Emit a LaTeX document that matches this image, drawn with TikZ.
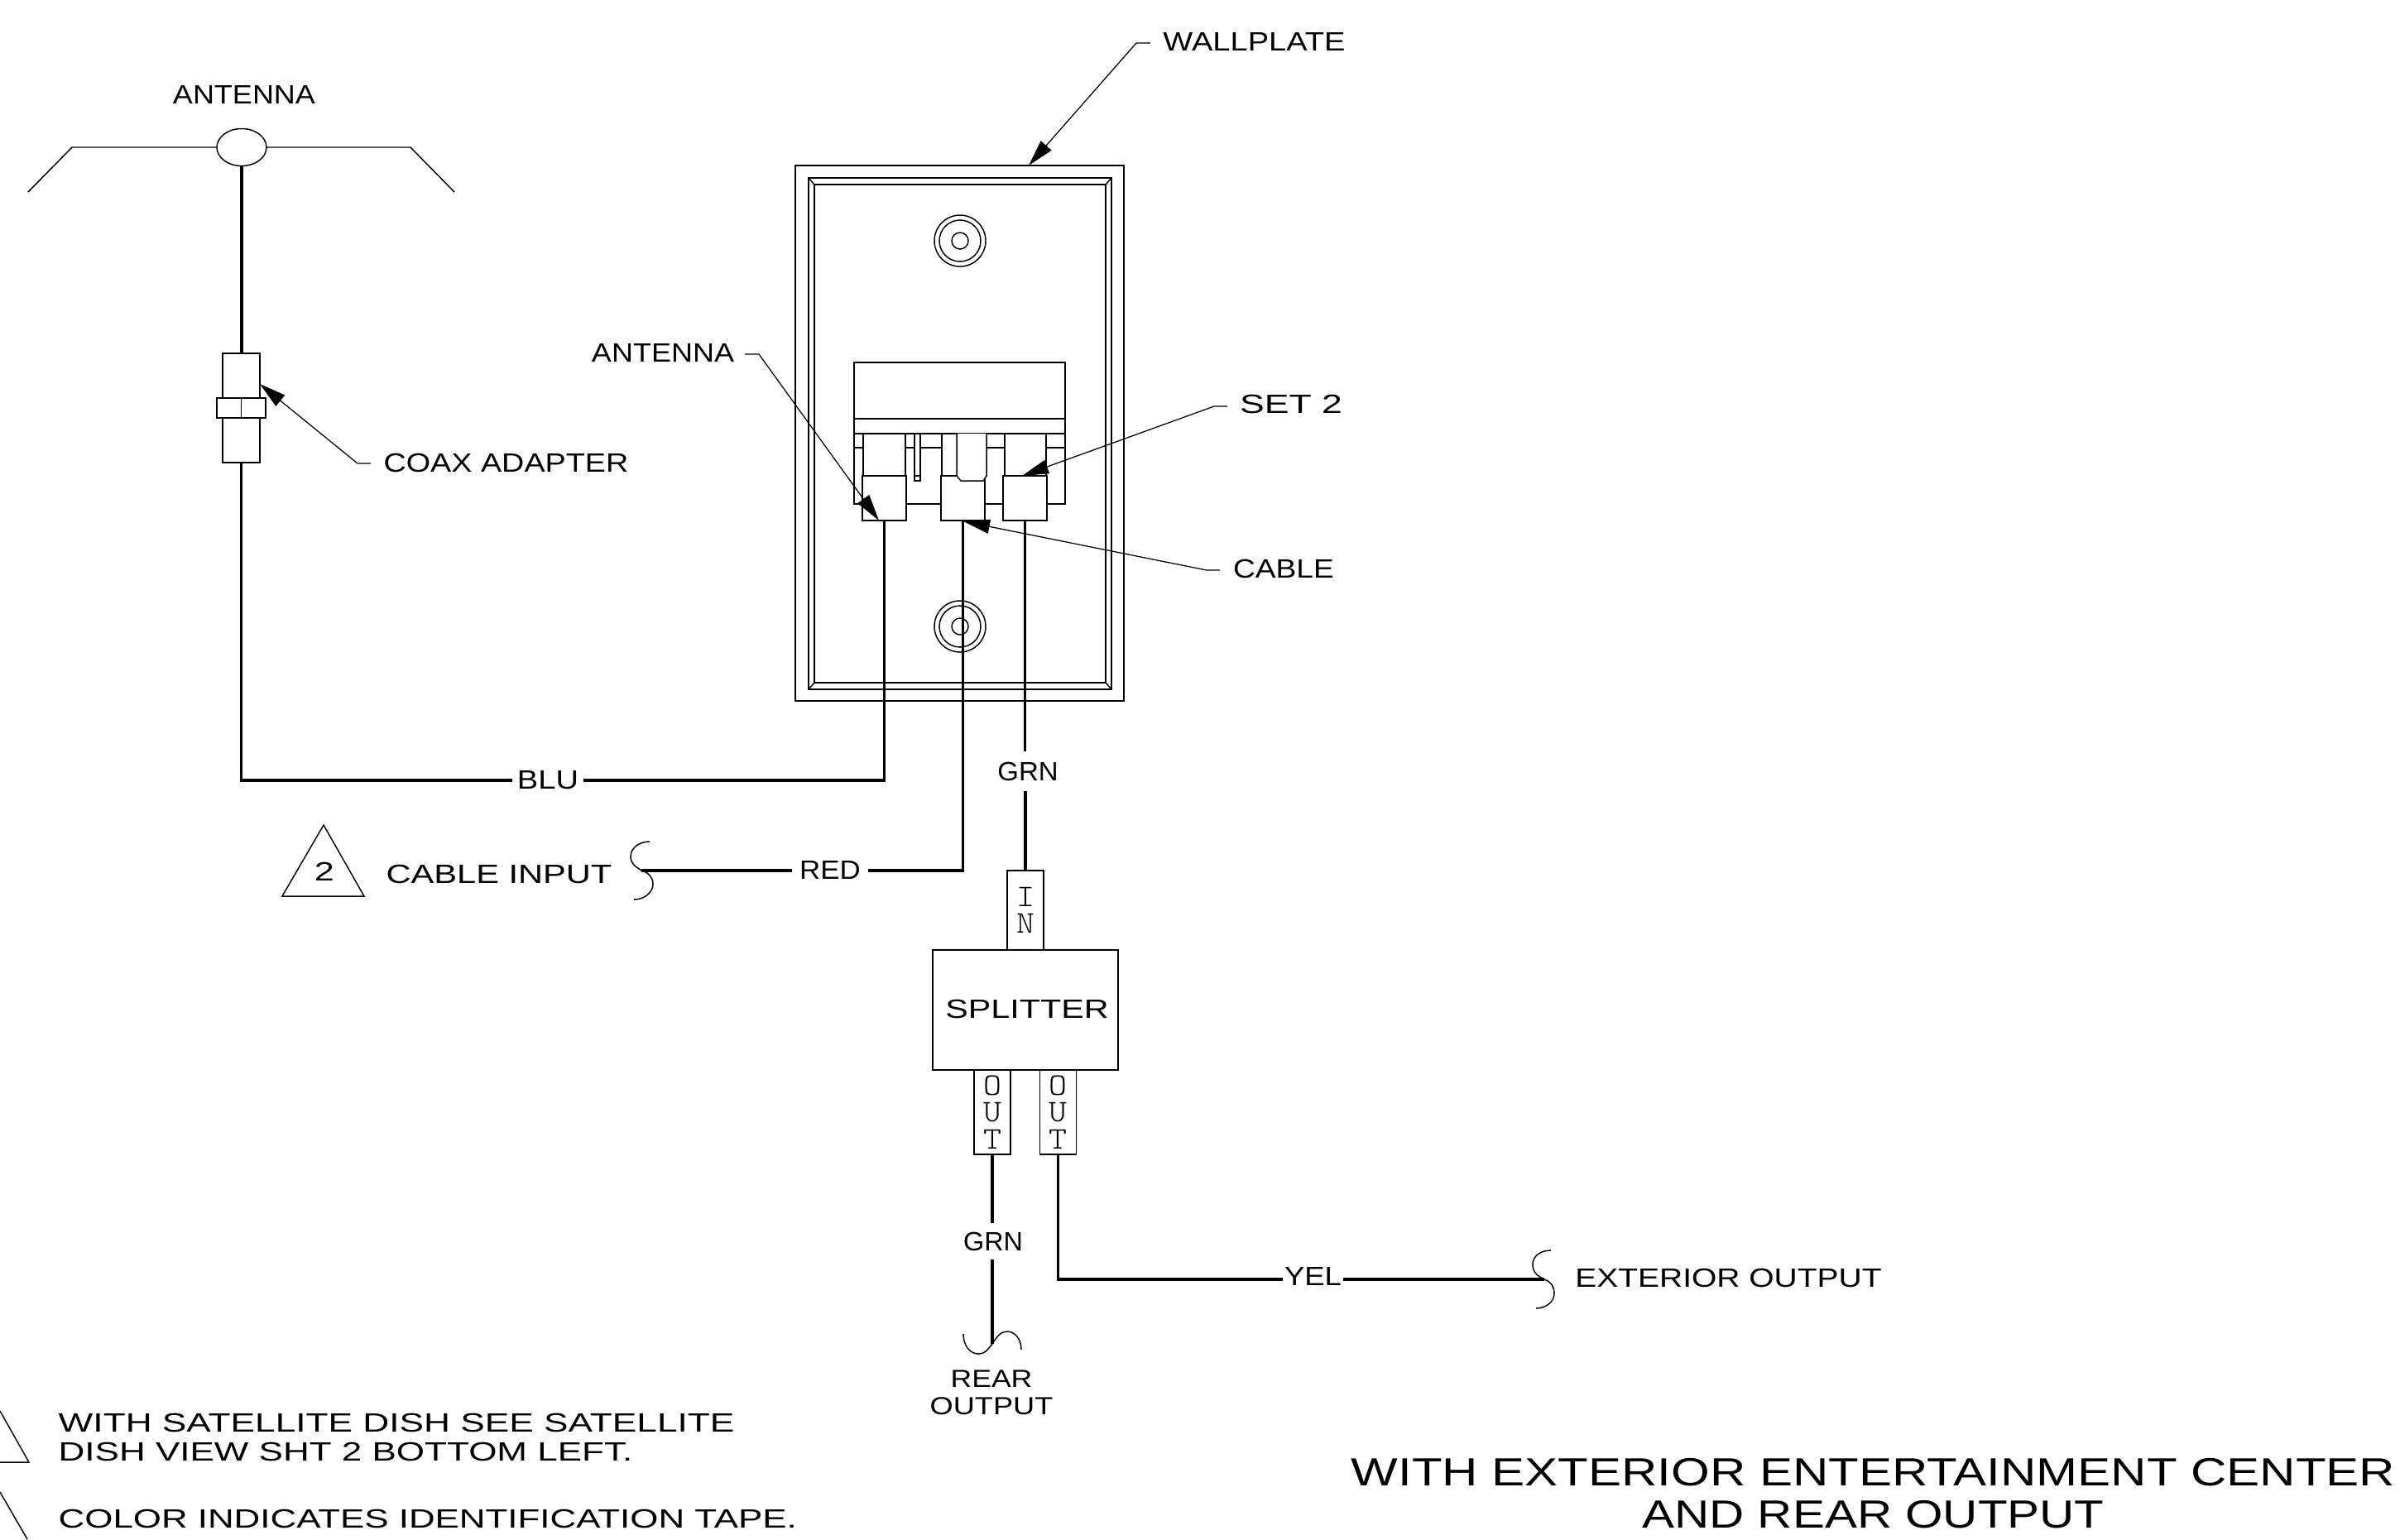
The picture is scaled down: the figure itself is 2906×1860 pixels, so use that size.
\documentclass[tikz,border=0pt]{standalone}
\usepackage{fontspec}
\setmainfont{Liberation Sans}
\usetikzlibrary{arrows.meta,shapes.geometric}
\newcommand{\stx}[2]{\scalebox{#1}[1]{#2}}
\tikzset{
    thinln/.style={line width=0.42pt},
    wire/.style={line width=0.95pt},
    leader/.style={line width=0.36pt, -{Triangle[length=3.2mm,width=1.7mm]}},
    part/.style={draw, line width=0.42pt, fill=white, inner sep=0pt},
    lbl/.style={inner sep=0pt, font=\fontsize{9.1pt}{9.9pt}\selectfont},
    stick/.style={part, align=center, font=\fontsize{10.8pt}{9.2pt}\ttfamily\fontseries{l}\selectfont}
}
\begin{document}
\begin{tikzpicture}[x=0.01cm, y=-0.01cm]
    \useasboundingbox (0,0) rectangle (2906,1860);

    % Wallplate
    \node[part, minimum width=3.97cm, minimum height=6.47cm] (plate) at (1159.5,523.5) {};
    \draw[thinln] (977,215) rectangle (1343,833);
    \draw[thinln] (984,223) rectangle (1336,825);
    \draw[thinln] (977,215) -- (984,223) (1343,215) -- (1336,223);
    \draw[thinln] (977,833) -- (984,825) (1343,833) -- (1336,825);

    % Screws
    \foreach \y in {291,757} {
        \draw[thinln] (1160,\y) circle (31);
        \draw[thinln] (1160,\y) circle (25);
        \draw[thinln] (1160,\y) circle (10);
    }

    % Inlet block
    \draw[thinln] (1032,438) rectangle (1287,609);
    \draw[thinln] (1032,506) -- (1287,506);
    \draw[thinln] (1032,541) -- (1287,541);
    \draw[line width=0.7pt] (1032,524) -- (1287,524);
    \draw[thinln, fill=white] (1043,524) rectangle (1094,575);
    \draw[thinln, fill=white] (1105,524) rectangle (1112,581);
    \draw[thinln] (1105,575) -- (1112,575);
    \draw[thinln, fill=white] (1138,524) rectangle (1192,575);
    \draw[thinln, fill=white] (1214,524) rectangle (1264,575);

    % Connectors
    \node[part, minimum width=0.53cm, minimum height=0.54cm] (conL) at (1068.5,602) {};
    \node[part, minimum width=0.53cm, minimum height=0.54cm] (conM) at (1163.5,602) {};
    \node[part, minimum width=0.53cm, minimum height=0.54cm] (conR) at (1238.5,602) {};
    \draw[thinln, fill=white] (1156,524) -- (1156,575) -- (1161,581) -- (1188,581) -- (1192,575) -- (1192,524);

    % Antenna
    \node[part, ellipse, minimum width=0.6cm, minimum height=0.45cm] (antennaHub) at (292,178) {};
    \draw[thinln] (antennaHub.west) -- (87,178) -- (34,232);
    \draw[thinln] (antennaHub.east) -- (496,178) -- (549,232);
    \node[lbl] (lblAntennaTop) at (295,114) {\stx{1.125}{ANTENNA}};

    % Coax adapter
    \node[part, minimum width=0.45cm, minimum height=1.32cm] (coaxBody) at (291.5,493) {};
    \node[part, minimum width=0.59cm, minimum height=0.24cm] (coaxCollar) at (291.5,493) {};
    \draw[thinln] (coaxCollar.north) -- (coaxCollar.south);
    \draw[wire] (antennaHub.south) -- (antennaHub.south |- coaxBody.north);

    % Splitter
    \node[part, minimum width=2.24cm, minimum height=1.45cm] (splitter) at (1239,1220.5) {};
    \node[lbl] (lblSplitter) at (1241,1219) {\stx{1.29}{SPLITTER}};
    \node[stick, minimum width=0.44cm, minimum height=0.96cm] (splitIn) at (1239,1100) {\stx{1.1}{I}\\\stx{1.1}{N}};
    \node[stick, minimum width=0.44cm, minimum height=1.02cm] (splitOutL) at (1199,1344) {\stx{1.1}{O}\\\stx{1.1}{U}\\\stx{1.1}{T}};
    \node[stick, minimum width=0.44cm, minimum height=1.02cm] (splitOutR) at (1278.5,1344) {\stx{1.1}{O}\\\stx{1.1}{U}\\\stx{1.1}{T}};

    % Wire labels
    \node[lbl, inner xsep=0.05cm] (lblBlu) at (662,943) {\stx{1.19}{BLU}};
    \node[lbl, inner xsep=0.08cm] (lblRed) at (1003,1051) {\stx{1.09}{RED}};
    \node[lbl, inner ysep=0.12cm] (lblGrnUp) at (1242,932) {\stx{1.03}{GRN}};
    \node[lbl, inner ysep=0.1cm] (lblGrnDn) at (1200,1500) {\stx{1.01}{GRN}};
    \node[lbl, inner xsep=0.01cm] (lblYel) at (1586.5,1542) {\stx{1.14}{YEL}};

    % Free wire ends
    \coordinate (cableEnd) at (775,1052);
    \coordinate (extEnd) at (1866,1546);
    \coordinate (rearEnd) at (1199,1624);

    % Wires
    \draw[wire] (coaxBody.south) |- (lblBlu.west);
    \draw[wire] (conL.south) |- (lblBlu.east);
    \draw[wire] (conM.south) |- (lblRed.east |- cableEnd);
    \draw[wire] (lblRed.west |- cableEnd) -- (cableEnd);
    \draw[wire] (conR.south) -- (conR.south |- lblGrnUp.north);
    \draw[wire] (splitIn.north |- lblGrnUp.south) -- (splitIn.north);
    \draw[wire] (splitOutL.south) -- (splitOutL.south |- lblGrnDn.north);
    \draw[wire] (splitOutL.south |- lblGrnDn.south) -- (rearEnd);
    \draw[wire] (splitOutR.south) |- (lblYel.west |- extEnd);
    \draw[wire] (lblYel.east |- extEnd) -- (extEnd);

    % Broken ends
    \draw[thinln] (cableEnd) .. controls (768,1047) and (762,1044) .. (762,1035) .. controls (762,1025) and (772,1017) .. (785,1017);
    \draw[thinln] (cableEnd) .. controls (783,1054) and (789,1060) .. (789,1068) .. controls (789,1079) and (778,1087) .. (766,1087);
    \draw[thinln] (extEnd) .. controls (1858,1542) and (1852,1538) .. (1852,1528) .. controls (1852,1518) and (1861,1511) .. (1874,1511);
    \draw[thinln] (extEnd) .. controls (1873,1548) and (1878,1554) .. (1878,1563) .. controls (1878,1573) and (1868,1581) .. (1856,1581);
    \draw[thinln] (rearEnd) .. controls (1192,1633) and (1189,1636) .. (1182,1636) .. controls (1172,1636) and (1164,1626) .. (1164,1612);
    \draw[thinln] (rearEnd) .. controls (1205,1614) and (1210,1609) .. (1217,1609) .. controls (1227,1609) and (1234,1619) .. (1234,1631);

    % Callouts
    \node[lbl] (lblWall) at (1515.5,50.5) {\stx{1.19}{WALLPLATE}};
    \coordinate (wallStub) at (1390,52);
    \coordinate (wallTip) at (1243,200);
    \draw[leader] (wallStub) -- ++(-17,0) -- (wallTip);

    \node[lbl] (lblCoax) at (611.5,559) {\stx{1.18}{COAX ADAPTER}};
    \coordinate (coaxStub) at (448,560);
    \coordinate (coaxTip) at (314,464);
    \draw[leader] (coaxStub) -- ++(-16,0) -- (coaxTip);

    \node[lbl] (lblAntenna) at (801,426.5) {\stx{1.125}{ANTENNA}};
    \coordinate (antStub) at (900,428);
    \coordinate (antTip) at (1062,629);
    \draw[leader] (antStub) -- ++(17,0) -- (antTip);

    \node[lbl] (lblSet) at (1560,488.5) {\stx{1.39}{SET 2}};
    \coordinate (setStub) at (1483,491);
    \coordinate (setTip) at (1235,575);
    \draw[leader] (setStub) -- ++(-16,0) -- (setTip);

    \node[lbl] (lblCable) at (1551,687.5) {\stx{1.16}{CABLE}};
    \coordinate (cableStub) at (1474,689);
    \coordinate (cableTip) at (1164,630);
    \draw[leader] (cableStub) -- ++(-16,0) -- (cableTip);

    % Outside labels
    \draw[thinln] (391,997) -- (341,1083) -- (440,1083) -- cycle;
    \node[lbl] (lblTwo) at (392,1053) {\stx{1.35}{2}};
    \node[lbl] (lblCableIn) at (603,1056.5) {\stx{1.30}{CABLE INPUT}};
    \node[lbl] (lblExt) at (2088.5,1544.5) {\stx{1.218}{EXTERIOR OUTPUT}};
    \node[lbl, align=center, font=\fontsize{8.5pt}{9.4pt}\selectfont] (lblRear) at (1198,1683) {\stx{1.19}{REAR}\\\stx{1.21}{OUTPUT}};

    % Notes
    \draw[thinln] (0,1705) -- (35,1767) -- (0,1767);
    \draw[thinln] (0,1803) -- (33,1860);
    \node[lbl, anchor=west, align=left] (noteDish) at (70,1737) {\stx{1.382}{WITH SATELLITE DISH SEE SATELLITE}\\\stx{1.375}{DISH VIEW SHT 2 BOTTOM LEFT.}};
    \node[lbl, anchor=west] (noteTape) at (70,1835.5) {\stx{1.371}{COLOR INDICATES IDENTIFICATION TAPE.}};

    % Title
    \node[lbl, align=center, font=\fontsize{13.5pt}{14.5pt}\selectfont] (title) at (2263.5,1804.5) {\stx{1.264}{WITH EXTERIOR ENTERTAINMENT CENTER}\\\stx{1.23}{AND REAR OUTPUT}};
\end{tikzpicture}
\end{document}
